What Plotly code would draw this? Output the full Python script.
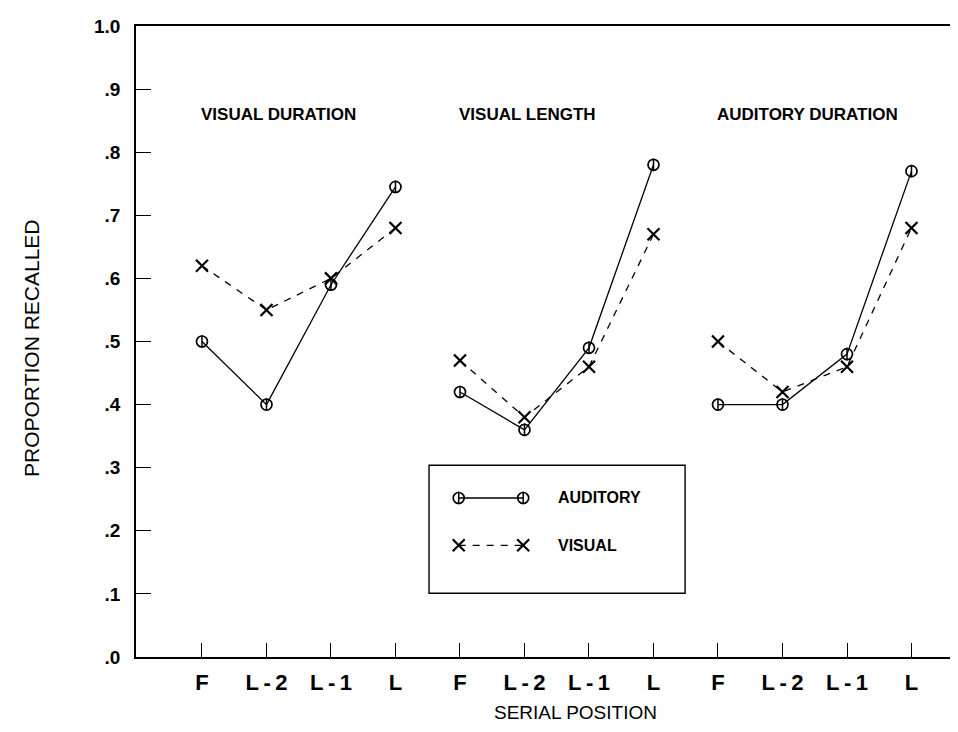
import plotly.graph_objects as go

# ---------------- data ----------------
positions = ["F", "L-2", "L-1", "L"]
conditions = ["VISUAL DURATION", "VISUAL LENGTH", "AUDITORY DURATION"]
auditory_visual_duration = [0.50, 0.40, 0.59, 0.745]
visual_visual_duration = [0.62, 0.55, 0.60, 0.68]
auditory_visual_length = [0.42, 0.36, 0.49, 0.78]
visual_visual_length = [0.47, 0.38, 0.46, 0.67]
auditory_auditory_duration = [0.40, 0.40, 0.48, 0.77]
visual_auditory_duration = [0.50, 0.42, 0.46, 0.68]
y_tick_values = [0, 0.1, 0.2, 0.3, 0.4, 0.5, 0.6, 0.7, 0.8, 0.9, 1.0]
y_tick_labels = [".0", ".1", ".2", ".3", ".4", ".5", ".6", ".7", ".8", ".9", "1.0"]

auditory = [auditory_visual_duration, auditory_visual_length, auditory_auditory_duration]
visual = [visual_visual_duration, visual_visual_length, visual_auditory_duration]

# ---------------- styles ----------------
BLACK = "black"
FONT = "Liberation Sans, Arial, sans-serif"
CIRCLE_SIZE = 11
X_SIZE = 12
LINE_W = 1.3
DASH = "7px,7px"

fig = go.Figure()

def add_aud(xs, ys):
    fig.add_trace(go.Scatter(
        x=xs, y=ys, mode="lines+markers",
        line=dict(color=BLACK, width=LINE_W),
        marker=dict(symbol="circle-open", size=CIRCLE_SIZE, color=BLACK,
                    line=dict(color=BLACK, width=1.7)),
        showlegend=False, hoverinfo="skip"))
    fig.add_trace(go.Scatter(
        x=xs, y=ys, mode="markers",
        marker=dict(symbol="line-ns", size=CIRCLE_SIZE - 2, color=BLACK,
                    line=dict(color=BLACK, width=1.5)),
        showlegend=False, hoverinfo="skip"))

def add_vis(xs, ys):
    fig.add_trace(go.Scatter(
        x=xs, y=ys, mode="lines+markers",
        line=dict(color=BLACK, width=LINE_W, dash=DASH),
        marker=dict(symbol="x-thin-open", size=X_SIZE, color=BLACK,
                    line=dict(color=BLACK, width=2.2)),
        showlegend=False, hoverinfo="skip"))

def spaced(label):
    # plotter-style wide spacing around the hyphen
    return label.replace("-", "\u2009-\u2009")

tick_vals = []
tick_text = []
for g in range(len(conditions)):
    xs = [g * len(positions) + i + 1 for i in range(len(positions))]
    tick_vals += xs
    tick_text += ["<b>" + spaced(p) + "</b>" for p in positions]
    add_vis(xs, visual[g])
    add_aud(xs, auditory[g])

# ---------------- panel titles ----------------
annotations = []
for g, name in enumerate(conditions):
    annotations.append(dict(
        x=g * len(positions) + 0.95, y=0.86, xref="x", yref="y",
        text="<b>" + name + "</b>", showarrow=False, xanchor="left",
        yanchor="middle", font=dict(family=FONT, size=17, color=BLACK)))

# ---------------- legend (drawn) ----------------
LEG_BOX = dict(x0=4.52, x1=8.49, y0=0.101, y1=0.304)
LEG_KEY_X = [4.98, 5.98]
LEG_ROW_Y = [0.252, 0.177]
LEG_TEXT_X = 6.49

fig.add_shape(type="rect", xref="x", yref="y", **LEG_BOX,
              line=dict(color=BLACK, width=1.4), fillcolor="white", layer="below")
add_aud(LEG_KEY_X, [LEG_ROW_Y[0]] * 2)
add_vis(LEG_KEY_X, [LEG_ROW_Y[1]] * 2)
for label, yy in zip(["AUDITORY", "VISUAL"], LEG_ROW_Y):
    annotations.append(dict(
        x=LEG_TEXT_X, y=yy, xref="x", yref="y", text="<b>" + label + "</b>",
        showarrow=False, xanchor="left", yanchor="middle",
        font=dict(family=FONT, size=16, color=BLACK)))

# axis titles
annotations.append(dict(
    x=(567 - 128) / 830, y=-(704 - 649) / 631, xref="paper", yref="paper",
    text="SERIAL POSITION", showarrow=False, xanchor="center", yanchor="middle",
    font=dict(family=FONT, size=19, color=BLACK)))
annotations.append(dict(
    x=-(128 - 24) / 830, y=(649 - 340) / 631, xref="paper", yref="paper",
    text="PROPORTION RECALLED", showarrow=False, textangle=-90,
    xanchor="center", yanchor="middle",
    font=dict(family=FONT, size=21, color=BLACK)))

fig.update_layout(
    width=958, height=732,
    margin=dict(l=128, r=0, t=18, b=83),
    paper_bgcolor="white", plot_bgcolor="white",
    annotations=annotations,
    showlegend=False,
)
fig.update_xaxes(
    range=[-0.023, 12.845], tickmode="array", tickvals=tick_vals, ticktext=tick_text,
    ticks="inside", ticklen=14, tickwidth=1.4, tickcolor=BLACK,
    showline=True, linecolor=BLACK, linewidth=1.8, mirror=True,
    showgrid=False, zeroline=False, ticklabelstandoff=5,
    tickfont=dict(family=FONT, size=22, color=BLACK),
)
fig.update_yaxes(
    range=[0, 1], tickmode="array", tickvals=y_tick_values,
    ticktext=["<b>" + t + "</b>" for t in y_tick_labels],
    ticks="inside", ticklen=15, tickwidth=1.4, tickcolor=BLACK,
    showline=True, linecolor=BLACK, linewidth=1.8,
    showgrid=False, zeroline=False, ticklabelstandoff=10,
    tickfont=dict(family=FONT, size=19, color=BLACK),
)

fig.write_html("out.html")
